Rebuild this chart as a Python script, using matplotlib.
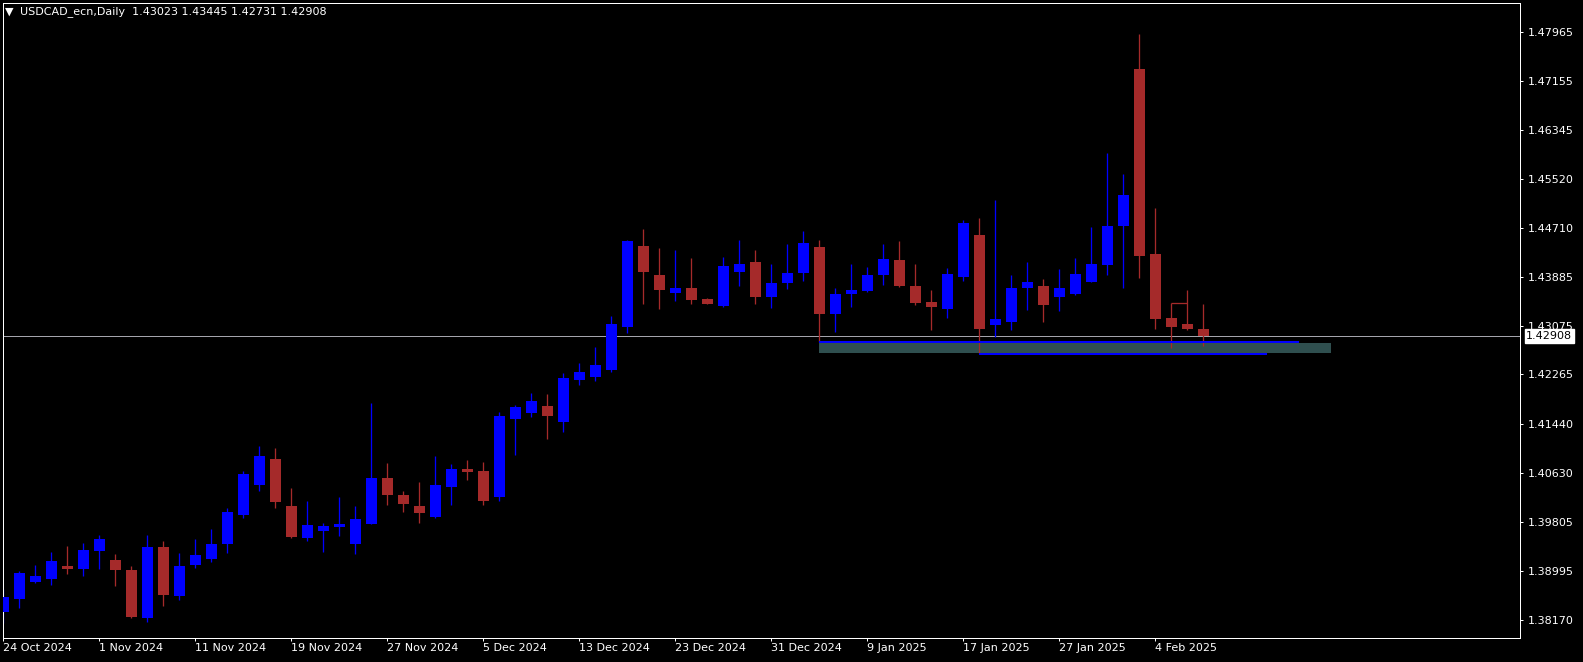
import numpy as np
import matplotlib
matplotlib.use("Agg")
import matplotlib.pyplot as plt
import matplotlib.transforms as mtransforms
from matplotlib.patches import Rectangle

# daily USDCAD bars, 24 Oct 2024 -> 7 Feb 2025
opens = [1.38313, 1.38525, 1.38813, 1.38858, 1.39075, 1.39025, 1.39324, 1.39175, 1.39008, 1.38213,
         1.39391, 1.38580, 1.39091, 1.39191, 1.39441, 1.39924, 1.40424, 1.40857, 1.40074, 1.39546,
         1.39663, 1.39729, 1.39446, 1.39779, 1.40540, 1.40257, 1.40074, 1.39896, 1.40396, 1.40690,
         1.40657, 1.40224, 1.41523, 1.41623, 1.41740, 1.41478, 1.42178, 1.42228, 1.42345, 1.43056,
         1.44405, 1.43922, 1.43627, 1.43706, 1.43522, 1.43411, 1.43977, 1.44139, 1.43561, 1.43794,
         1.43960, 1.44388, 1.43277, 1.43611, 1.43661, 1.43927, 1.44172, 1.43739, 1.43472, 1.43361,
         1.43889, 1.44588, 1.43094, 1.43144, 1.43711, 1.43739, 1.43561, 1.43611, 1.43810, 1.44089,
         1.44743, 1.47354, 1.44272, 1.43206, 1.43106, 1.43023]
highs = [1.38691, 1.38991, 1.39091, 1.39308, 1.39408, 1.39458, 1.39591, 1.39274, 1.39075, 1.39591,
         1.39491, 1.39291, 1.39524, 1.39691, 1.40041, 1.40657, 1.41074, 1.41040, 1.40374, 1.40157,
         1.39791, 1.40224, 1.40079, 1.41790, 1.40790, 1.40324, 1.40474, 1.40907, 1.40774, 1.40840,
         1.40807, 1.41645, 1.41757, 1.41956, 1.41940, 1.42290, 1.42456, 1.42723, 1.43239, 1.44510,
         1.44688, 1.44372, 1.44338, 1.44205, 1.43539, 1.44222, 1.44505, 1.44338, 1.44105, 1.44438,
         1.44655, 1.44505, 1.43705, 1.44105, 1.44055, 1.44438, 1.44488, 1.44105, 1.43672, 1.44039,
         1.44838, 1.44872, 1.45171, 1.43922, 1.44139, 1.43855, 1.44022, 1.44205, 1.44722, 1.45954,
         1.45605, 1.47937, 1.45038, 1.43456, 1.43672, 1.43445]
lows = [1.38120, 1.38380, 1.38791, 1.38758, 1.38947, 1.38913, 1.39025, 1.38741, 1.38215, 1.38147,
        1.38413, 1.38513, 1.39046, 1.39141, 1.39291, 1.39879, 1.40324, 1.40046, 1.39546, 1.39496,
        1.39313, 1.39579, 1.39279, 1.39779, 1.40096, 1.39979, 1.39796, 1.39879, 1.40096, 1.40512,
        1.40096, 1.40157, 1.40924, 1.41562, 1.41195, 1.41312, 1.42095, 1.42161, 1.42311, 1.42961,
        1.43444, 1.43361, 1.43494, 1.43444, 1.43444, 1.43389, 1.43744, 1.43444, 1.43377, 1.43694,
        1.43827, 1.42811, 1.42978, 1.43394, 1.43644, 1.43760, 1.43727, 1.43427, 1.43011, 1.43211,
        1.43827, 1.42618, 1.42894, 1.43011, 1.43344, 1.43144, 1.43327, 1.43594, 1.43810, 1.43922,
        1.43711, 1.43877, 1.43028, 1.42701, 1.43011, 1.42731]
closes = [1.38558, 1.38958, 1.38908, 1.39158, 1.39025, 1.39341, 1.39524, 1.39008, 1.38225, 1.39391,
          1.38591, 1.39075, 1.39258, 1.39441, 1.39974, 1.40607, 1.40907, 1.40146, 1.39563, 1.39758,
          1.39741, 1.39774, 1.39857, 1.40540, 1.40262, 1.40112, 1.39962, 1.40424, 1.40690, 1.40645,
          1.40162, 1.41573, 1.41723, 1.41823, 1.41573, 1.42206, 1.42306, 1.42423, 1.43106, 1.44488,
          1.43977, 1.43677, 1.43706, 1.43511, 1.43444, 1.44072, 1.44105, 1.43561, 1.43789, 1.43955,
          1.44455, 1.43277, 1.43606, 1.43672, 1.43922, 1.44189, 1.43744, 1.43461, 1.43394, 1.43939,
          1.44788, 1.43028, 1.43189, 1.43706, 1.43805, 1.43427, 1.43706, 1.43939, 1.44105, 1.44738,
          1.45255, 1.44244, 1.43194, 1.43061, 1.43028, 1.42908]

date_ticks = [0, 6, 12, 18, 24, 30, 36, 42, 48, 54, 60, 66, 72]
date_labels = ["24 Oct 2024", "1 Nov 2024", "11 Nov 2024", "19 Nov 2024", "27 Nov 2024",
               "5 Dec 2024", "13 Dec 2024", "23 Dec 2024", "31 Dec 2024", "9 Jan 2025",
               "17 Jan 2025", "27 Jan 2025", "4 Feb 2025"]
price_labels = ["1.47965", "1.47155", "1.46345", "1.45520", "1.44710", "1.43885", "1.43075",
                "1.42265", "1.41440", "1.40630", "1.39805", "1.38995", "1.38170"]

# support zone and lines drawn on the chart
zone_start, zone_end = 51, 83
zone_low, zone_high = 1.42628, 1.42789
line1_start, line1_end, line1_price = 51, 81, 1.42803
line2_start, line2_end, line2_price = 61, 79, 1.42611
step_start, step_end, step_price = 73, 74, 1.43456
bid = 1.42908

bull_col = "#0000ff"
bear_col = "#a52a2a"
px = 0.72  # one pixel in points at dpi 100

W, H = 1583, 662
fig = plt.figure(figsize=(W / 100, H / 100), dpi=100, facecolor="black")
left, right, top, bottom = 2.5, 1519.5, 2.5, 637.5
ax = fig.add_axes([left / W, (H - bottom) / H, (right - left) / W, (bottom - top) / H])
ax.set_facecolor("black")

# candles
for i in range(len(opens)):
    o, h, l, c = opens[i], highs[i], lows[i], closes[i]
    col = bull_col if c >= o else bear_col
    ax.vlines(i, l, h, color=col, lw=1.3 * px, zorder=2)
    body = max(abs(c - o), 0.00017)
    ax.bar(i, body, bottom=min(o, c), width=11 / 16, color=col, lw=0, zorder=3)

# zone + lines
ax.add_patch(Rectangle((zone_start, zone_low), zone_end - zone_start, zone_high - zone_low,
                       facecolor="#2f4f4f", lw=0, zorder=1))
ax.hlines(line1_price, line1_start, line1_end, color=bull_col, lw=2 * px, zorder=4)
ax.hlines(line2_price, line2_start, line2_end, color=bull_col, lw=2 * px, zorder=4)
ax.hlines(step_price, step_start, step_end, color=bear_col, lw=1.3 * px, zorder=4)
ax.axhline(bid, color="#a4a4ac", lw=1 * px, zorder=1.5)

# scales: 16 px per bar, first bar centre at x=3.3
ax.set_xlim((left - 3.3) / 16, (right - 3.3) / 16)
ax.set_ylim(1.37883, 1.48461)

for s in ax.spines.values():
    s.set_color("white")
    s.set_linewidth(1 * px)

ax.yaxis.tick_right()
ax.set_yticks([float(p) for p in price_labels], price_labels)
ax.set_xticks(date_ticks, date_labels)
ax.tick_params(axis="y", colors="white", length=3 * px, width=px, pad=4, labelsize=8)
ax.tick_params(axis="x", colors="white", length=3 * px, width=px, pad=2, labelsize=8)
for lab in ax.get_xticklabels():
    lab.set_horizontalalignment("left")

# current price box
trans = mtransforms.blended_transform_factory(ax.transAxes, ax.transData)
ax.text(1.0045, bid, "1.42908", transform=trans, color="black", fontsize=8, va="center",
        ha="left", clip_on=False, zorder=10,
        bbox=dict(facecolor="white", edgecolor="white", boxstyle="square,pad=0.15"))

# header
fig.text(5 / W, 1 - 12 / H, "\u25bc", color="white", fontsize=8, va="center", ha="left")
fig.text(20 / W, 1 - 12 / H, "USDCAD_ecn,Daily  1.43023 1.43445 1.42731 1.42908",
         color="white", fontsize=8, va="center", ha="left")

fig.savefig("out.png", dpi=100, facecolor="black")
